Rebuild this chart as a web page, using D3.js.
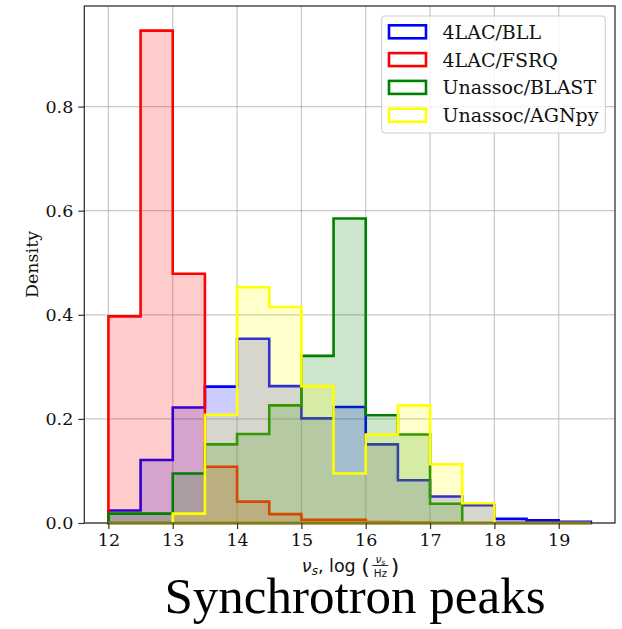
<!DOCTYPE html>
<html>
<head>
<meta charset="utf-8">
<script src="https://cdn.jsdelivr.net/npm/d3@7"></script>
<style>
  html, body { margin: 0; padding: 0; background: #fff; }
  svg { display: block; }
</style>
</head>
<body>
<svg id="chart" width="622" height="629"></svg>
<script>
// ---- data ----
const binEdges = [12, 12.5, 13, 13.5, 14, 14.5, 15, 15.5, 16, 16.5, 17, 17.5, 18, 18.5, 19, 19.5];
const seriesNames = ["4LAC/BLL", "4LAC/FSRQ", "Unassoc/BLAST", "Unassoc/AGNpy"];
const seriesColors = ["#0000ff", "#ff0000", "#008000", "#ffff00"];
const bllValues   = [0.024, 0.121, 0.222, 0.262, 0.354, 0.263, 0.201, 0.223, 0.151, 0.082, 0.051, 0.034, 0.008, 0.005, 0.0025];
const fsrqValues  = [0.397, 0.946, 0.479, 0.108, 0.041, 0.017, 0.006, 0.006, 0.002, 0.001, 0, 0, 0, 0, 0];
const blastValues = [0.018, 0.018, 0.095, 0.151, 0.171, 0.226, 0.321, 0.585, 0.207, 0.170, 0.037, 0, 0, 0, 0];
const agnpyValues = [0, 0, 0.018, 0.208, 0.453, 0.415, 0.263, 0.095, 0.170, 0.226, 0.113, 0.038, 0, 0, 0];
const xTicks = [12, 13, 14, 15, 16, 17, 18, 19];
const yTicks = [0.0, 0.2, 0.4, 0.6, 0.8];
const titleText = "Synchrotron peaks";
const yLabelText = "Density";

const allSeries = [bllValues, fsrqValues, blastValues, agnpyValues];

// ---- layout ----
const svg = d3.select("#chart");
const L = 84.3, R = 615, T = 6, B = 523;
const x = d3.scaleLinear().domain([11.625, 19.875]).range([L, R]);
const yMax = d3.max(allSeries.flat()) * 1.05;
const y = d3.scaleLinear().domain([0, yMax]).range([B, T]);

const serif = "'DejaVu Serif', serif";
const sans = "'DejaVu Sans', sans-serif";

// grid
const grid = svg.append("g");
grid.selectAll("line.gx").data(xTicks).join("line")
  .attr("x1", d => x(d)).attr("x2", d => x(d)).attr("y1", T).attr("y2", B)
  .attr("stroke", "#b0b0b0").attr("stroke-opacity", 0.7).attr("stroke-width", 1.2);
grid.selectAll("line.gy").data(yTicks).join("line")
  .attr("x1", L).attr("x2", R).attr("y1", d => y(d)).attr("y2", d => y(d))
  .attr("stroke", "#b0b0b0").attr("stroke-opacity", 0.7).attr("stroke-width", 1.2);

// histograms
const line = d3.line().x(d => x(d[0])).y(d => y(d[1]));
function stepPoints(vals) {
  const pts = [[binEdges[0], 0]];
  vals.forEach((v, i) => { pts.push([binEdges[i], v]); pts.push([binEdges[i + 1], v]); });
  pts.push([binEdges[binEdges.length - 1], 0]);
  return pts;
}
const hist = svg.append("g");
allSeries.forEach((vals, i) => {
  const p = line(stepPoints(vals)) + "Z";
  hist.append("path").attr("d", p)
    .attr("fill", seriesColors[i]).attr("fill-opacity", 0.2)
    .attr("stroke", "none");
  hist.append("path").attr("d", p)
    .attr("fill", "none").attr("stroke", seriesColors[i])
    .attr("stroke-width", 2.6).attr("stroke-linejoin", "miter");
});

// axes
const xAxis = d3.axisBottom(x).tickValues(xTicks).tickFormat(d3.format("d")).tickSize(6).tickPadding(5);
const yAxis = d3.axisLeft(y).tickValues(yTicks).tickFormat(d3.format(".1f")).tickSize(6).tickPadding(5);
const gx = svg.append("g").attr("transform", `translate(0,${B})`).call(xAxis);
const gy = svg.append("g").attr("transform", `translate(${L},0)`).call(yAxis);
[gx, gy].forEach(g => {
  g.select(".domain").remove();
  g.selectAll(".tick line").attr("stroke", "#333").attr("stroke-width", 1.2);
  g.selectAll(".tick text").attr("font-family", serif).attr("font-size", 17.5).attr("fill", "#111");
});

// frame
svg.append("rect").attr("x", L).attr("y", T).attr("width", R - L).attr("height", B - T)
  .attr("fill", "none").attr("stroke", "#333").attr("stroke-width", 1.3);

// y label
svg.append("text")
  .attr("transform", `translate(33,${(T + B) / 2}) rotate(-90)`)
  .attr("text-anchor", "middle").attr("dominant-baseline", "middle")
  .attr("font-family", serif).attr("font-size", 17.5).attr("fill", "#111")
  .text(yLabelText);

// x label (math): ν_s, log (ν_s / Hz)
const xl = svg.append("g").attr("font-family", sans).attr("fill", "#111");
const cx = (L + R) / 2;
const base = 572;
const xlText = xl.append("text").attr("y", base).attr("font-size", 17.5);
xlText.append("tspan").attr("font-style", "italic").text("ν");
xlText.append("tspan").attr("font-style", "italic").attr("font-size", 12).attr("dy", 3).text("s");
xlText.append("tspan").attr("dy", -3).text(", log ");
xlText.append("tspan").attr("font-size", 22).attr("dy", 2).text("(");
const w1 = xlText.node().getComputedTextLength();
const fracW = 18;
const xl2 = xl.append("text").attr("y", base + 2).attr("font-size", 22).text(")");
const w2 = xl2.node().getComputedTextLength();
const totalW = w1 + fracW + 3 + w2;
const x0 = cx - totalW / 2 + 1;
xlText.attr("x", x0);
const fx = x0 + w1 + 1.5;
xl2.attr("x", fx + fracW + 1.5);
const num = xl.append("text").attr("x", fx + fracW / 2).attr("y", base - 9.5).attr("text-anchor", "middle").attr("font-size", 10.5);
num.append("tspan").attr("font-style", "italic").text("ν");
num.append("tspan").attr("font-style", "italic").attr("font-size", 7.5).attr("dy", 2).text("s");
xl.append("line").attr("x1", fx + 1).attr("x2", fx + fracW - 1).attr("y1", base - 6.5).attr("y2", base - 6.5)
  .attr("stroke", "#111").attr("stroke-width", 0.9);
xl.append("text").attr("x", fx + fracW / 2).attr("y", base + 5).attr("text-anchor", "middle").attr("font-size", 10.5).text("Hz");

// legend
const lg = svg.append("g");
lg.append("rect").attr("x", 381.7).attr("y", 16).attr("width", 223.6).attr("height", 117)
  .attr("rx", 3).attr("fill", "#fff").attr("fill-opacity", 0.8)
  .attr("stroke", "#cccccc").attr("stroke-width", 1);
seriesNames.forEach((name, i) => {
  const cy = 31.8 + i * 27.8;
  lg.append("rect").attr("x", 389).attr("y", cy - 6.5).attr("width", 37).attr("height", 13)
    .attr("fill", seriesColors[i]).attr("fill-opacity", 0.0)
    .attr("stroke", seriesColors[i]).attr("stroke-width", 2.6);
  lg.append("text").attr("x", 442.5).attr("y", cy).attr("dominant-baseline", "central")
    .attr("font-family", serif).attr("font-size", 19).attr("fill", "#111").text(name);
});

// title
svg.append("text").attr("x", 355).attr("y", 613).attr("text-anchor", "middle")
  .attr("font-family", "'Liberation Serif', 'Times New Roman', serif").attr("font-size", 51)
  .attr("fill", "#000").text(titleText);
</script>
</body>
</html>
